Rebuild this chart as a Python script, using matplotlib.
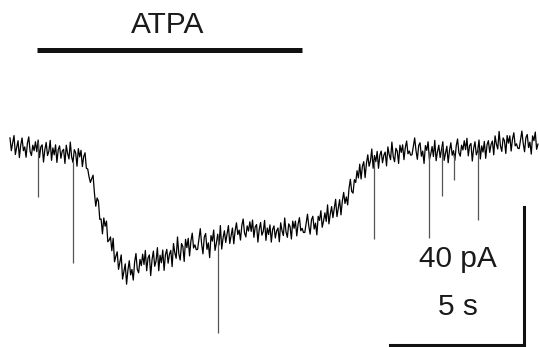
import matplotlib.pyplot as plt
import numpy as np

plt.rcParams['font.family'] = ['Liberation Sans', 'DejaVu Sans']

# whole-cell current, sampled every 0.05 s (pA), one row per second
dt = 0.05
current = [
    3.5, -0.2, 2.1, 4.2, -1.3, 0.8, 2.7, -2.2, 1.4, 3.5, -0.2, 0.9, -2.1, 2.0, 3.8, -0.4, -1.6, 1.4, -0.2, 2.4,
    -0.5, 2.9, -2.2, 0.9, 1.5, -3.5, 0.1, 2.2, -1.6, -0.4, 2.8, -3.0, 0.6, -1.4, 1.5, -3.6, 0.1, 1.2, -2.4, -0.3,
    0.2, -3.9, 1.4, -1.0, -2.6, 2.3, -2.0, -3.6, 0.1, -0.8, -4.7, 0.4, -2.0, -0.1, -4.8, -1.9, -0.8, -5.3, -5.5, -7.8,
    -9.4, -8.3, -7.3, -12.4, -16.3, -13.9, -14.8, -20.1, -20.0, -24.3, -19.7, -22.1, -20.6, -26.6, -26.1, -25.2, -29.2, -25.6, -32.4, -30.8,
    -29.5, -34.6, -32.5, -30.4, -37.4, -35.2, -33.0, -38.9, -34.8, -32.1, -36.2, -34.6, -37.7, -32.5, -30.0, -34.6, -35.6, -31.7, -33.5, -30.2,
    -33.2, -29.1, -35.0, -31.3, -30.4, -36.4, -31.8, -29.3, -33.7, -32.2, -28.3, -35.0, -30.5, -32.7, -29.0, -34.9, -30.3, -28.8, -32.8, -30.2,
    -29.1, -33.8, -27.1, -29.8, -31.4, -25.2, -30.1, -31.9, -27.1, -28.0, -32.3, -25.9, -28.3, -25.6, -30.7, -26.4, -24.1, -28.4, -27.5, -28.9,
    -28.8, -25.8, -22.8, -27.2, -30.1, -25.2, -24.2, -28.8, -26.9, -31.2, -24.8, -26.4, -23.2, -29.1, -27.1, -24.4, -27.5, -21.9, -28.7, -25.5,
    -23.4, -26.8, -24.3, -21.9, -27.1, -24.8, -22.6, -27.2, -23.4, -21.1, -24.5, -23.2, -26.1, -21.9, -20.0, -24.0, -25.2, -22.0, -23.5, -20.8,
    -23.6, -20.3, -25.3, -22.3, -21.6, -26.7, -23.0, -21.0, -24.7, -23.6, -20.4, -26.2, -22.6, -24.5, -21.7, -26.7, -23.0, -22.0, -25.5, -23.4,
    -22.6, -26.6, -21.1, -23.4, -24.8, -19.7, -23.8, -25.3, -21.4, -22.2, -25.8, -20.6, -22.7, -20.6, -24.9, -21.5, -19.6, -23.4, -22.7, -23.9,
    -23.9, -21.2, -18.6, -22.1, -24.4, -20.2, -19.2, -22.9, -21.2, -24.6, -19.2, -20.4, -17.6, -22.4, -20.6, -18.2, -20.7, -15.9, -21.4, -18.6,
    -16.4, -19.6, -16.9, -14.3, -19.3, -16.8, -14.4, -18.8, -14.8, -12.3, -15.5, -13.6, -15.9, -11.1, -8.5, -12.0, -12.5, -8.6, -9.4, -6.0,
    -8.1, -4.1, -8.4, -4.7, -3.4, -8.0, -3.9, -1.4, -4.7, -3.2, 0.3, -5.3, -1.6, -3.4, -0.4, -5.3, -1.5, -0.3, -3.7, -1.5,
    -0.6, -4.6, 0.9, -1.4, -2.8, 2.3, -1.9, -3.4, 0.5, -0.3, -3.9, 1.4, -0.7, 1.5, -2.8, 0.7, 2.6, -1.1, -0.3, -1.5,
    -1.4, 1.1, 3.5, -0.2, -2.7, 1.3, 2.1, -1.8, -0.3, -3.9, 1.3, -0.1, 2.4, -2.7, -1.2, 1.0, -1.9, 2.8, -3.1, -0.5,
    1.4, -2.2, 0.2, 2.4, -3.0, -0.9, 1.1, -3.7, -0.1, 2.1, -1.5, -0.2, -3.0, 1.2, 3.2, -0.8, -1.8, 1.4, 0.0, 2.7,
    0.1, 3.4, -1.7, 1.3, 1.9, -3.2, 0.4, 2.4, -1.4, -0.3, 2.9, -2.6, 1.2, -0.6, 2.5, -2.4, 1.5, 2.7, -0.7, 1.6,
    2.6, -1.4, 4.1, 1.7, 0.3, 5.4, 1.2, -0.4, 3.5, 2.7, -1.0, 4.2, 2.0, 4.1, -0.3, 3.2, 5.0, 1.2, 1.8, 0.5,
    0.4, 3.0, 5.5, 1.9, -0.5, 3.6, 4.5, 0.7, 2.3, -1.2, 4.1, 2.7, 5.2, 0.2, 1.7,
]

# fast synaptic events: time (s) and peak current (pA)
event_t = [1.04, 2.35, 7.76, 13.58, 15.63, 16.12, 16.57, 17.46]
event_pA = [-13.6, -32.8, -53.0, -25.8, -25.5, -13.3, -8.7, -20.3]

# drug application window (s)
atpa_on, atpa_off = 1.0, 10.9

# scale bars
bar_pA = 40
bar_s = 5

t = np.arange(len(current)) * dt

fig = plt.figure(figsize=(5.39, 3.47), dpi=100)
ax = fig.add_axes([0, 0, 1, 1])

ax.plot(t, current, color='black', lw=0.9)
tops = np.interp(event_t, t, current)
ax.vlines(event_t, event_pA, tops, color='#555555', lw=0.9)

# application bar + label
ax.plot([atpa_on, atpa_off], [29, 29], color='#111111', lw=3.6,
        solid_capstyle='butt')
ax.text(5.9, 33.9, 'ATPA', ha='center', va='baseline', fontsize=21.5,
        color='#1a1a1a')

# L-shaped scale bar
x_end = 19.18
y_base = -56.6
ax.plot([x_end - bar_s, x_end, x_end], [y_base, y_base, y_base + bar_pA],
        color='#111111', lw=2.2, solid_joinstyle='miter')
ax.text(16.72, -33.9, '%d pA' % bar_pA, ha='center', va='baseline',
        fontsize=21.5, color='#1a1a1a')
ax.text(16.72, -47.8, '%d s' % bar_s, ha='center', va='baseline',
        fontsize=21.5, color='#1a1a1a')

ax.set_xlim(-0.373, 19.739)
ax.set_ylim(-57.1, 43.48)
ax.axis('off')

fig.savefig('out.png', dpi=100)
